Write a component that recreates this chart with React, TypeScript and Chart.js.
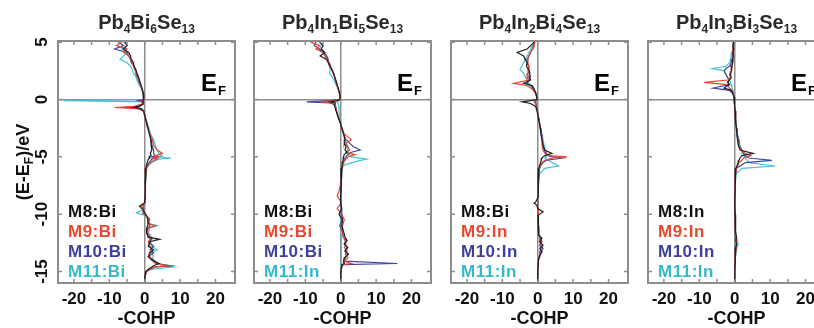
import React, { useEffect, useRef } from "react";
import { Chart, registerables } from "chart.js";

Chart.register(...registerables);

if (typeof document !== "undefined") document.body.style.margin = "0";

const FONT = '"Liberation Sans", Arial, Helvetica, sans-serif';
const FRAME = "#8d8d8d";

const LINE_COLORS = ["#1e1e1e", "#e5462c", "#45459d", "#44c3d8"];
const LEGEND_COLORS = ["#111111", "#e6492d", "#3f3f9c", "#35b9c9"];

const X_TICKS = [-20, -10, 0, 10, 20];
const Y_TICKS = [5, 0, -5, -10, -15];
const X_MINOR = [-20, -15, -10, -5, 0, 5, 10, 15, 20, 25];

const TITLES = [
  [["Pb", "4"], ["Bi", "6"], ["Se", "13"]],
  [["Pb", "4"], ["In", "1"], ["Bi", "5"], ["Se", "13"]],
  [["Pb", "4"], ["In", "2"], ["Bi", "4"], ["Se", "13"]],
  [["Pb", "4"], ["In", "3"], ["Bi", "3"], ["Se", "13"]],
];

const LEGENDS = [
  ["M8:Bi", "M9:Bi", "M10:Bi", "M11:Bi"],
  ["M8:Bi", "M9:Bi", "M10:Bi", "M11:In"],
  ["M8:Bi", "M9:In", "M10:In", "M11:In"],
  ["M8:In", "M9:In", "M10:In", "M11:In"],
];

// ---------- Panel 1: Pb4Bi6Se13 ----------
const E1 = [5.0, 4.7, 4.4, 4.1, 3.8, 3.5, 3.2, 2.9, 2.6, 2.3, 2.0, 1.7, 1.4, 1.1, 0.8, 0.5, 0.2, 0.0, -0.1, -0.2, -0.4, -0.6, -0.7, -0.8, -1.0, -1.5, -2.0, -2.5, -3.0, -3.5, -4.0, -4.4, -4.7, -4.9, -5.0, -5.1, -5.2, -5.4, -5.7, -6.0, -7.0, -8.0, -9.0, -9.3, -9.6, -9.9, -10.1, -10.4, -10.8, -11.0, -11.2, -11.6, -12.0, -12.2, -12.4, -12.8, -13.1, -13.4, -13.7, -14.0, -14.3, -14.5, -14.6, -14.8, -15.0, -15.5, -16.0];
const P1_M8 = [-5.5, -5, -6, -4.5, -4, -3.8, -3.2, -3, -2.5, -2.2, -1.8, -1.5, -1.2, -0.9, -0.6, -0.4, -0.3, -0.3, -0.5, -0.4, -0.5, -1.5, -3, -1, -0.3, 0.1, 0.5, 0.9, 1.3, 1.7, 1.8, 2.0, 1.6, 1.8, 1.2, 1.5, 1.0, 0.8, 0.5, 0.3, 0.2, 0.1, 0, -1.5, -0.5, 0, 0.5, 0.8, 1.0, 0.8, 0.6, 0.5, 1, 4.2, 1.5, 1, 2.5, 1.5, 1, 2, 4, 2.5, 2, 1, 0.3, 0, 0];
const P1_M9 = [-6.5, -8, -5, -6, -4.5, -4, -3.5, -3.2, -2.8, -2.3, -2, -1.6, -1.3, -1, -0.6, -0.4, -0.3, -0.3, -0.6, -0.5, -0.8, -3, -8.5, -2, -0.4, 0, 0.4, 0.8, 1.5, 2.2, 2.5, 3.5, 5, 3, 4, 2.5, 3.5, 2, 1, 0.5, 0.2, 0.1, 0, -0.8, -0.3, -0.5, 0.3, 1.2, 0.8, 3, 1, 0.8, 1.5, 1.5, 1, 1.5, 2, 1.2, 1.5, 2, 3, 7, 3, 1.5, 0.5, 0, 0];
const P1_M10 = [-7.5, -6, -8.5, -5, -4.5, -4, -3.8, -3, -2.7, -2.5, -2, -1.8, -1.4, -1, -0.7, -0.4, -0.3, -0.4, -2, -0.6, -0.6, -2, -6, -1.5, -0.3, 0.1, 0.6, 1.0, 1.4, 1.8, 2.0, 2.5, 2.5, 3, 2, 3.5, 2, 1.5, 0.8, 0.4, 0.2, 0.1, 0, -0.5, -0.3, -0.5, 0.3, 1.0, 1.2, 1.5, 0.8, 0.6, 1, 2, 1.2, 2.5, 1.5, 2.5, 1, 2.5, 3.5, 7.5, 3, 1.5, 0.5, 0, 0];
const P1_M11 = [-6, -5, -6.5, -5, -6, -7, -5, -4, -3.5, -3.2, -2.5, -2.2, -1.8, -1.2, -0.8, -0.5, -0.4, -0.5, -23, -0.8, -0.6, -1.5, -3, -1, -0.3, 0.1, 0.5, 1.2, 1.6, 2.5, 3, 3.5, 4, 5, 3.5, 7.5, 4, 2.5, 1.2, 0.6, 0.3, 0.1, 0, -0.8, -0.5, -2.3, 0.2, 1.5, 1.0, 3.5, 1.5, 1, 2, 1.8, 1.5, 2, 3.5, 2, 2.5, 2, 4, 5, 8, 2, 0.5, 0, 0];

// ---------- Panel 2: Pb4In1Bi5Se13 ----------
const E2 = [5.0, 4.7, 4.4, 4.1, 3.8, 3.5, 3.2, 2.9, 2.6, 2.3, 2.0, 1.7, 1.4, 1.1, 0.8, 0.5, 0.2, 0.0, -0.1, -0.2, -0.3, -0.5, -1.0, -1.5, -2.0, -2.5, -3.0, -3.5, -3.8, -4.1, -4.4, -4.6, -4.8, -5.0, -5.2, -5.4, -5.7, -6.0, -7.0, -8.0, -8.4, -9.0, -9.5, -10.0, -10.5, -11.0, -11.5, -12.0, -12.3, -12.6, -12.9, -13.2, -13.5, -13.8, -14.1, -14.3, -14.4, -15.0, -16.0];
const P2_M8 = [-6, -5, -5.5, -4.5, -5.8, -4, -3.5, -3, -2.5, -2, -1.7, -1.4, -1.1, -0.8, -0.5, -0.3, -0.2, -0.3, -1, -3, -1.5, -1.8, -1.3, -0.8, -0.2, 0.3, 0.8, 1.2, 1.0, 1.5, 1.2, 1.8, 1.0, 0.8, 0.7, 0.6, 0.4, 0.3, 0.1, 0.1, 0, 0, 0.3, -0.5, 0.5, 0.3, 0.8, 1.2, 1.8, 1.0, 2, 1.2, 2.2, 1, 0.8, 1, 0.3, 0, 0];
const P2_M9 = [-8.5, -6, -7, -5, -4.5, -3.8, -3.2, -2.8, -2.5, -2.2, -1.8, -1.5, -1.2, -0.9, -0.6, -0.3, -0.2, -0.3, -2, -5.5, -2.5, -1.5, -1.2, -0.7, -0.2, 0.4, 1, 3, 1.5, 2, 2.5, 1.5, 4, 2, 1.5, 1, 0.6, 0.3, 0.2, -0.5, -1, 0.2, -1.0, 0.3, 1, 0.5, 0.5, 0.8, 1.2, 1.5, 1, 1.8, 1.3, 2, 1, 3, 0.5, 0, 0];
const P2_M10 = [-7, -7.5, -6, -5, -4, -3.5, -3.5, -3, -2.5, -2, -1.8, -1.5, -1.2, -0.9, -0.6, -0.3, -0.2, -0.3, -3, -9.6, -3, -1.5, -1.2, -0.7, -0.1, 0.3, 0.8, 1.5, 2.5, 3.5, 5.5, 3, 2, 1.5, 1, 0.8, 0.5, 0.3, 0.1, 0, 0, 0, 0.2, 0.3, 0.5, -0.3, 0.5, 0.7, 1.5, 1, 1.8, 1.2, 2, 1.2, 1, 16, 0.5, 0, 0];
const P2_M11 = [-5, -5.5, -6, -4.5, -4, -3.8, -3.5, -3.2, -3, -3.2, -2.5, -2, -1.5, -1, -0.6, -0.3, -0.2, -0.3, -0.5, -1, -0.8, -0.6, -0.5, -0.3, 0, 0.3, 0.8, 1.2, 1.5, 1.8, 2, 1.5, 2.5, 3, 7.3, 4.5, 1, 0.4, 0.2, 0.1, 0, 0, 0.1, 0.1, 0.2, 0.1, 0.2, 0.3, 0.3, 0.3, 0.3, 0.2, 0.2, 0.2, 0.1, 0.1, 0, 0, 0];

// ---------- Panel 3: Pb4In2Bi4Se13 ----------
const E3 = [5.0, 4.7, 4.4, 4.1, 3.8, 3.5, 3.2, 2.9, 2.6, 2.3, 2.0, 1.7, 1.4, 1.2, 0.9, 0.6, 0.3, 0.0, -0.1, -0.2, -0.35, -0.6, -1.0, -1.5, -2.0, -2.5, -3.0, -3.5, -4.0, -4.4, -4.7, -4.9, -5.0, -5.1, -5.3, -5.5, -5.8, -6.0, -6.5, -7.5, -8.5, -8.9, -9.05, -9.2, -9.5, -9.8, -10.1, -11.0, -11.8, -12.1, -12.4, -12.7, -13.0, -13.3, -13.6, -14.0, -15.0, -16.0];
const P3_M8 = [-1, -2, -3, -5.8, -4, -3.5, -3, -3.2, -2.5, -2.2, -2.5, -2, -4, -1.5, -1, -0.6, -0.3, -0.2, -2, -4.4, -2, -0.6, -0.2, 0.1, 0.4, 0.7, 0.9, 1.2, 1.5, 2, 4, 2, 1.5, 1.2, 1, 0.8, 0.5, 0.3, 0.2, 0.1, 0.1, -0.5, -1, -0.3, 0, 1.5, 0.1, 0.1, 0.3, 1.2, 0.5, 1.5, 0.6, 1.2, 0.5, 0.2, 0, 0];
const P3_M9 = [-0.8, -1, -1.5, -2, -2.5, -3, -2.8, -2.5, -2.5, -2.8, -3, -2.5, -6.8, -3, -1.5, -0.8, -0.4, -0.2, -0.5, -1, -0.6, -0.4, -0.1, 0.2, 0.5, 0.8, 1, 1.3, 1.2, 1.5, 2, 3, 8.3, 4, 2, 1.2, 0.8, 0.5, 0.3, 0.1, 0, 0, 0, 0, 0, 0.3, 0, 0.1, 0.3, 0.5, 0.8, 0.6, 1, 0.5, 0.8, 0.2, 0, 0];
const P3_M10 = [-0.8, -1.2, -1.5, -2, -2.5, -2.8, -3, -2.5, -2.8, -2.5, -2, -2.5, -3, -2, -1.2, -0.6, -0.3, -0.2, -0.4, -0.8, -0.5, -0.3, -0.1, 0.2, 0.5, 0.7, 1, 1.2, 1.5, 1.8, 2.5, 3, 4, 7, 2.5, 1.5, 0.8, 0.5, 0.3, 0.1, 0, 0, 0, 0, 0, 0.2, 0, 0.1, 0.3, 0.8, 1.2, 0.8, 1.5, 0.8, 0.6, 0.2, 0, 0];
const P3_M11 = [-1, -1.5, -2, -2.5, -3, -3.5, -4, -4.5, -5, -4, -3.5, -3, -2.5, -2, -1.2, -0.6, -0.3, -0.2, -0.3, -0.5, -0.4, -0.3, -0.1, 0.2, 0.5, 0.8, 1.2, 1.5, 1.8, 2, 2.5, 2, 2.5, 2, 3, 4, 5.9, 2, 0.5, 0.2, 0.1, 0, 0, 0, 0, 0.2, 0, 0.1, 0.4, 0.6, 1, 0.5, 0.8, 1.2, 0.5, 0.2, 0, 0];

// ---------- Panel 4: Pb4In3Bi3Se13 ----------
const E4 = [5.0, 4.7, 4.4, 4.1, 3.8, 3.5, 3.2, 2.9, 2.7, 2.5, 2.2, 1.9, 1.7, 1.5, 1.3, 1.0, 0.8, 0.5, 0.2, 0.0, -0.5, -1.0, -1.5, -2.0, -2.5, -3.0, -3.5, -4.0, -4.4, -4.7, -4.9, -5.1, -5.3, -5.5, -5.8, -6.0, -6.5, -7.5, -9.0, -10.0, -11.0, -11.5, -12.0, -12.3, -12.6, -12.9, -13.3, -14.0, -15.0, -16.0];
const P4_M8 = [-0.3, -0.5, -0.3, -0.5, -0.4, -0.5, -0.6, -0.8, -1, -0.8, -1.2, -1, -1.5, -2, -1.5, -3, -1, -0.5, -0.2, -0.1, 0, 0.1, 0.2, 0.3, 0.5, 0.6, 0.8, 1, 1.5, 5.2, 2, 1.5, 1.2, 1, 0.6, 0.3, 0.2, 0.1, 0, 0.1, 0.1, 0.3, 0.5, 0.3, 0.6, 0.3, 0.2, 0.1, 0, 0];
const P4_M9 = [-0.5, -0.3, -0.6, -0.4, -0.5, -0.5, -0.6, -0.8, -1, -1, -1.5, -1.2, -2, -8.6, -2, -1.5, -0.8, -0.4, -0.2, -0.1, 0, 0.1, 0.2, 0.3, 0.4, 0.6, 0.8, 1.2, 1.8, 3, 4.5, 2.5, 2, 1.2, 0.8, 0.5, 0.2, 0.1, 0, 0.1, 0.2, 0.2, 0.3, 0.5, 0.3, 0.5, 0.2, 0.1, 0, 0];
const P4_M10 = [-0.3, -0.5, -0.4, -0.5, -0.6, -0.8, -1, -1.5, -2.5, -3, -2.5, -2, -1.5, -2, -1.5, -6.1, -1.5, -0.5, -0.2, -0.1, 0, 0.1, 0.2, 0.3, 0.5, 0.7, 1, 1.2, 2, 2.5, 3, 4, 10.5, 3, 1.5, 0.5, 0.2, 0.1, 0, 0.1, 0.1, 0.2, 0.3, 0.5, 0.4, 0.3, 0.2, 0.1, 0, 0];
const P4_M11 = [-0.4, -0.5, -0.6, -0.8, -1, -1.2, -1.5, -2.5, -6.3, -3, -2.5, -2, -1.5, -1.2, -1, -0.8, -0.5, -0.3, -0.2, -0.1, 0, 0.1, 0.2, 0.4, 0.5, 0.8, 1.2, 1.5, 2, 2, 2.5, 3, 3.5, 4, 11.5, 2, 0.4, 0.1, 0, 0.1, 0.2, 0.3, 0.5, 0.8, 1, 0.6, 0.4, 0.1, 0, 0];

const PANEL_ENERGIES = [E1, E2, E3, E4];
const PANEL_SERIES = [
  [P1_M8, P1_M9, P1_M10, P1_M11],
  [P2_M8, P2_M9, P2_M10, P2_M11],
  [P3_M8, P3_M9, P3_M10, P3_M11],
  [P4_M8, P4_M9, P4_M10, P4_M11],
];

const CANVAS_LEFT = [0, 196, 393, 590];
const CANVAS_W = 240;
const CANVAS_H = 328;

function drawSegments(ctx: CanvasRenderingContext2D, segs: [string, string][], cx: number, base: number, mainPx: number, subPx: number, subDrop: number) {
  const main = `bold ${mainPx}px ${FONT}`;
  const sub = `bold ${subPx}px ${FONT}`;
  let total = 0;
  for (const [m, s] of segs) {
    ctx.font = main;
    total += ctx.measureText(m).width;
    if (s) {
      ctx.font = sub;
      total += ctx.measureText(s).width;
    }
  }
  let x = cx - total / 2;
  for (const [m, s] of segs) {
    ctx.font = main;
    ctx.fillText(m, x, base);
    x += ctx.measureText(m).width;
    if (s) {
      ctx.font = sub;
      ctx.fillText(s, x, base + subDrop);
      x += ctx.measureText(s).width;
    }
  }
}

const decorPlugin = {
  id: "decor",
  afterDatasetsDraw(chart: any, _args: any, opts: any) {
    const p = opts.panel as number;
    const { ctx, chartArea: a } = chart;
    const xs = chart.scales.x;
    const ys = chart.scales.y;
    ctx.save();
    ctx.strokeStyle = FRAME;
    ctx.lineWidth = 1.5;
    ctx.beginPath();
    for (const v of X_MINOR) {
      const px = xs.getPixelForValue(v);
      if (px <= a.left + 2 || px >= a.right - 2) continue;
      ctx.moveTo(px, a.top);
      ctx.lineTo(px, a.top + 4);
      ctx.moveTo(px, a.bottom);
      ctx.lineTo(px, a.bottom - 4);
    }
    for (const v of Y_TICKS) {
      const py = ys.getPixelForValue(v);
      ctx.moveTo(a.left, py);
      ctx.lineTo(a.left + 4, py);
      ctx.moveTo(a.right, py);
      ctx.lineTo(a.right - 4, py);
    }
    ctx.stroke();
    ctx.lineWidth = 2;
    ctx.strokeRect(a.left, a.top, a.right - a.left, a.bottom - a.top);

    // E_F label
    const y0 = ys.getPixelForValue(0);
    ctx.fillStyle = "#000";
    ctx.textAlign = "left";
    ctx.textBaseline = "alphabetic";
    ctx.font = `bold 24px ${FONT}`;
    const ex = a.right - 34;
    ctx.fillText("E", ex, y0 - 8.5);
    const ew = ctx.measureText("E").width;
    ctx.font = `bold 13px ${FONT}`;
    ctx.fillText("F", ex + ew + 1, y0 - 4.5);

    // legend texts
    ctx.font = `bold 17px ${FONT}`;
    (ctx as any).letterSpacing = "0.5px";
    const dsets = chart.data.datasets;
    dsets.forEach((ds: any, i: number) => {
      ctx.fillStyle = LEGEND_COLORS[i];
      ctx.fillText(ds.label, a.left + 10, a.bottom - 6 - (dsets.length - 1 - i) * 20);
    });
    (ctx as any).letterSpacing = "0px";
    ctx.restore();
  },
  afterDraw(chart: any, _args: any, opts: any) {
    const p = opts.panel as number;
    const { ctx, chartArea: a } = chart;
    ctx.save();
    ctx.textAlign = "left";
    ctx.textBaseline = "alphabetic";
    ctx.fillStyle = "#2a2a2a";
    drawSegments(ctx, TITLES[p] as [string, string][], (a.left + a.right) / 2, 29, 20, 12, 4);
    if (p === 0) {
      ctx.fillStyle = "#111";
      ctx.translate(22, (a.top + a.bottom) / 2);
      ctx.rotate(-Math.PI / 2);
      drawSegments(ctx, [["(E-E", "F"], [")/eV", ""]], 0, 6.5, 18, 12, 4);
    }
    ctx.restore();
  },
};

function buildConfig(p: number): any {
  const energies = PANEL_ENERGIES[p];
  const datasets = PANEL_SERIES[p].map((vals, i) => ({
    label: LEGENDS[p][i],
    data: energies.map((e, k) => ({ x: vals[k], y: e })),
    borderColor: LINE_COLORS[i],
    backgroundColor: LINE_COLORS[i],
    borderWidth: 1.2,
    pointRadius: 0,
    tension: 0,
    fill: false,
  }));
  const zeroGrid = (c: any) => (c.tick && c.tick.value === 0 ? FRAME : "rgba(0,0,0,0)");
  return {
    type: "line",
    data: { datasets },
    plugins: [decorPlugin],
    options: {
      animation: false,
      responsive: false,
      devicePixelRatio: 1,
      events: [],
      layout: { padding: { top: 41, left: 0, right: CANVAS_W - 58 - 177, bottom: 0 } },
      plugins: {
        legend: { display: false },
        tooltip: { enabled: false },
        decor: { panel: p },
      },
      scales: {
        x: {
          type: "linear",
          min: -24.5,
          max: 25.5,
          afterBuildTicks: (s: any) => {
            s.ticks = X_TICKS.map((v) => ({ value: v }));
          },
          afterFit: (s: any) => {
            s.height = 45;
          },
          border: { display: false },
          grid: { color: zeroGrid, lineWidth: 1.5, drawTicks: false },
          ticks: {
            padding: 6,
            color: "#111",
            font: { family: FONT, size: 17, weight: "bold" },
            maxRotation: 0,
            minRotation: 0,
          },
          title: {
            display: true,
            text: "-COHP",
            color: "#111",
            font: { family: FONT, size: 18, weight: "bold", lineHeight: 1 },
            padding: { top: 0, bottom: 0 },
          },
        },
        y: {
          type: "linear",
          min: -16,
          max: 5.1,
          afterBuildTicks: (s: any) => {
            s.ticks = Y_TICKS.map((v) => ({ value: v }));
          },
          afterFit: (s: any) => {
            s.width = 58;
          },
          border: { display: false },
          grid: { color: zeroGrid, lineWidth: 1.5, drawTicks: false },
          ticks: {
            display: p === 0,
            padding: 3,
            crossAlign: "center",
            minRotation: 90,
            maxRotation: 90,
            color: "#111",
            font: { family: FONT, size: 17, weight: "bold" },
          },
        },
      },
    },
  };
}

function Panel({ p }: { p: number }) {
  const ref = useRef<HTMLCanvasElement | null>(null);
  useEffect(() => {
    if (!ref.current) return;
    const chart = new Chart(ref.current, buildConfig(p));
    return () => chart.destroy();
  }, [p]);
  return (
    <canvas
      ref={ref}
      width={CANVAS_W}
      height={CANVAS_H}
      style={{ position: "absolute", left: CANVAS_LEFT[p], top: 0, width: CANVAS_W, height: CANVAS_H }}
    />
  );
}

export default function App() {
  useEffect(() => {
    document.body.style.margin = "0";
  }, []);
  return (
    <div style={{ position: "relative", width: 814, height: 328, overflow: "hidden", background: "#ffffff" }}>
      {[0, 1, 2, 3].map((p) => (
        <Panel key={p} p={p} />
      ))}
    </div>
  );
}
